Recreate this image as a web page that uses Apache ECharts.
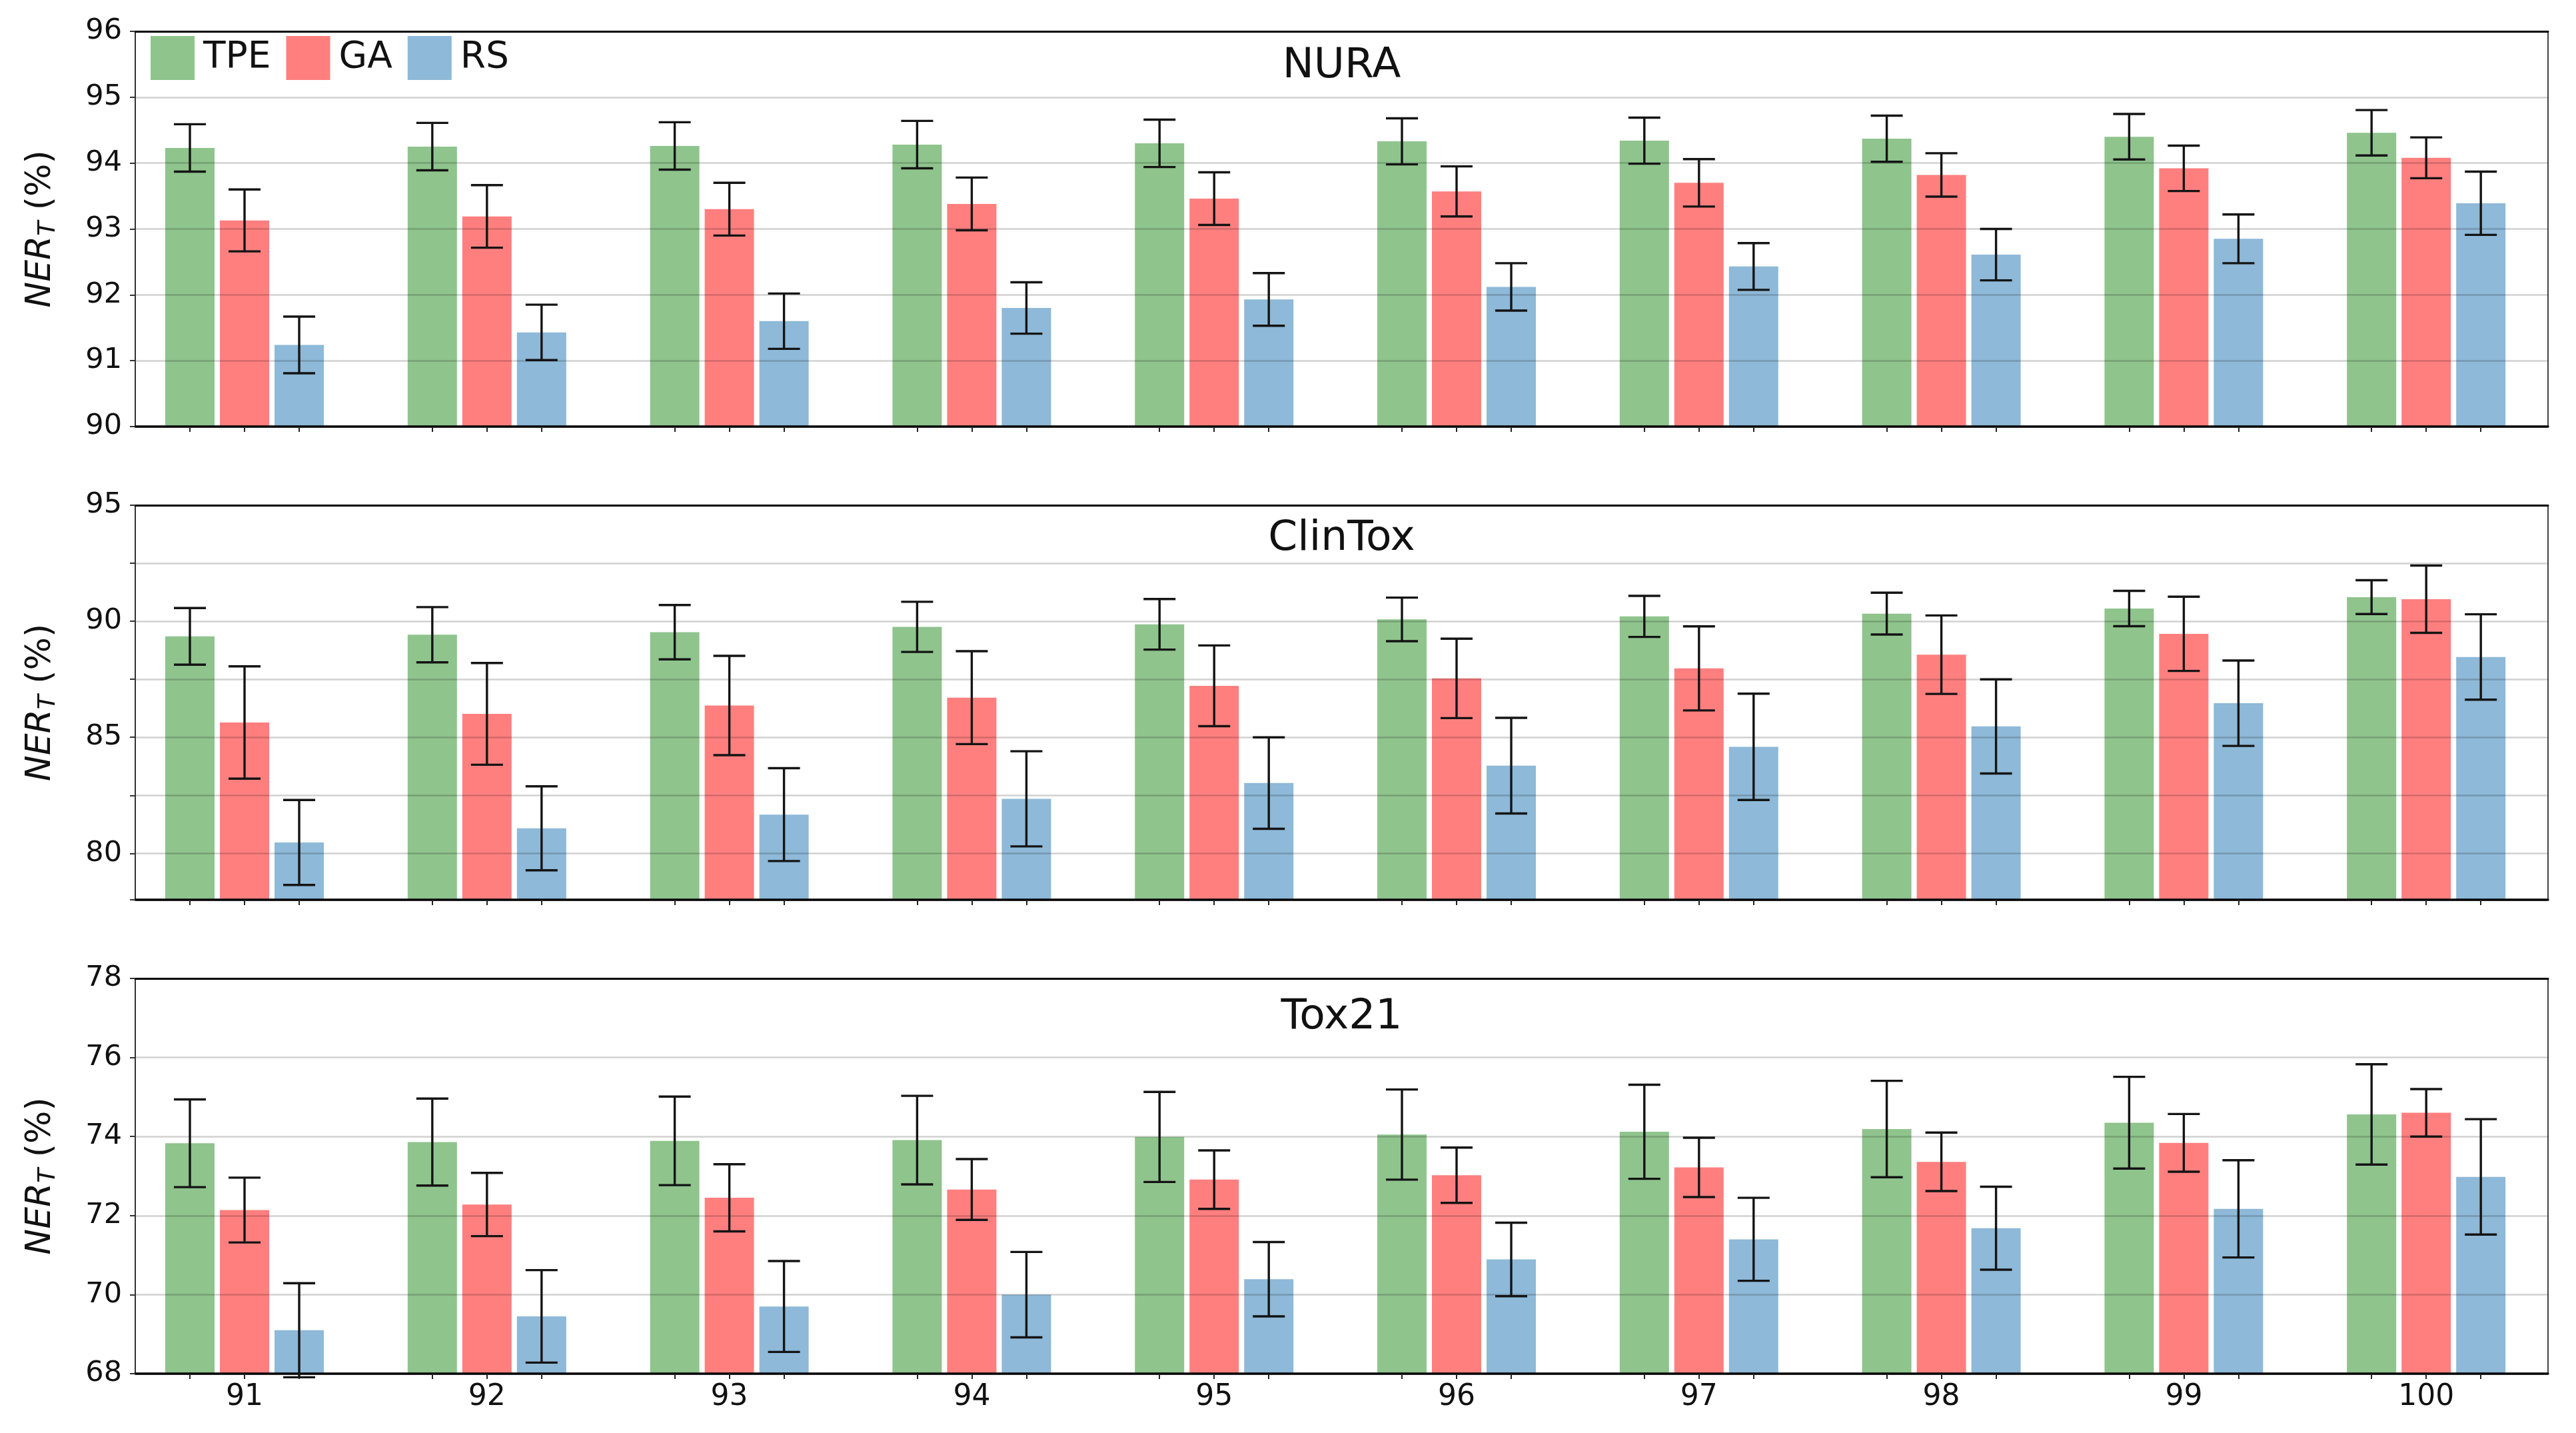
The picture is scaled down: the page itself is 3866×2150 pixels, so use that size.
<!DOCTYPE html>
<html><head><meta charset="utf-8">
<script src="https://cdn.jsdelivr.net/npm/echarts@6/dist/echarts.min.js"></script>
<style>html,body{margin:0;padding:0;background:#fff}#c{width:3866px;height:2150px}</style>
</head><body><div id="c"></div>
<script>
// ---------------- data ----------------
const categories = ['91', '92', '93', '94', '95', '96', '97', '98', '99', '100'];
const methods = ['TPE', 'GA', 'RS'];
const panelTitles = ['NURA', 'ClinTox', 'Tox21'];

const nuraTPE    = [94.23, 94.25, 94.26, 94.28, 94.30, 94.33, 94.34, 94.37, 94.40, 94.46];
const nuraTPEErr = [0.36, 0.36, 0.36, 0.36, 0.36, 0.35, 0.35, 0.35, 0.345, 0.345];
const nuraGA     = [93.13, 93.19, 93.30, 93.38, 93.46, 93.57, 93.70, 93.82, 93.92, 94.08];
const nuraGAErr  = [0.47, 0.475, 0.40, 0.40, 0.40, 0.38, 0.36, 0.33, 0.345, 0.31];
const nuraRS     = [91.24, 91.43, 91.60, 91.80, 91.93, 92.12, 92.43, 92.61, 92.85, 93.39];
const nuraRSErr  = [0.43, 0.42, 0.42, 0.39, 0.40, 0.36, 0.355, 0.39, 0.37, 0.48];

const clintoxTPE    = [89.35, 89.42, 89.53, 89.76, 89.87, 90.08, 90.21, 90.33, 90.55, 91.04];
const clintoxTPEErr = [1.22, 1.19, 1.17, 1.08, 1.09, 0.94, 0.885, 0.90, 0.76, 0.73];
const clintoxGA     = [85.64, 86.01, 86.37, 86.71, 87.22, 87.54, 87.97, 88.56, 89.46, 90.95];
const clintoxGAErr  = [2.42, 2.19, 2.14, 2.00, 1.74, 1.71, 1.81, 1.69, 1.60, 1.45];
const clintoxRS     = [80.47, 81.08, 81.67, 82.35, 83.03, 83.78, 84.59, 85.47, 86.47, 88.46];
const clintoxRSErr  = [1.83, 1.81, 2.00, 2.05, 1.97, 2.06, 2.29, 2.03, 1.84, 1.84];

const tox21TPE    = [73.83, 73.86, 73.89, 73.91, 73.99, 74.05, 74.12, 74.19, 74.35, 74.56];
const tox21TPEErr = [1.11, 1.10, 1.12, 1.12, 1.14, 1.14, 1.19, 1.22, 1.16, 1.27];
const tox21GA     = [72.14, 72.28, 72.45, 72.66, 72.91, 73.02, 73.22, 73.36, 73.84, 74.60];
const tox21GAErr  = [0.82, 0.80, 0.85, 0.77, 0.74, 0.70, 0.75, 0.74, 0.73, 0.60];
const tox21RS     = [69.10, 69.45, 69.70, 70.00, 70.39, 70.89, 71.40, 71.68, 72.17, 72.98];
const tox21RSErr  = [1.19, 1.17, 1.15, 1.08, 0.94, 0.93, 1.05, 1.05, 1.23, 1.46];

const nuraYTicks    = [90, 91, 92, 93, 94, 95, 96];
const clintoxYTicks = [80, 85, 90, 95];
const tox21YTicks   = [68, 70, 72, 74, 76, 78];

// ---------------- layout / style ----------------
const X_MIN = -0.4508, X_MAX = 9.5025;   // axis extent in group units
const OFFSET = 0.2254;                    // bar offset within a group
const BAR_W = 0.2034;                     // bar width in group units
const CAP_HALF = 24;
const colors = { TPE: 'rgb(143,196,141)', GA: 'rgb(255,127,127)', RS: 'rgb(142,185,216)' };
const FONT = 'DejaVu Sans';
const grids = [
  { left: 203, right: 42, top: 47, height: 593 },
  { left: 203, right: 42, top: 758, height: 592 },
  { left: 203, right: 42, top: 1468, height: 593 }
];
const titleY = [100, 809, 1527];

const panels = [
  { means: [nuraTPE, nuraGA, nuraRS], errs: [nuraTPEErr, nuraGAErr, nuraRSErr], min: 90, max: 96, ticks: nuraYTicks, step: 1 },
  { means: [clintoxTPE, clintoxGA, clintoxRS], errs: [clintoxTPEErr, clintoxGAErr, clintoxRSErr], min: 78, max: 95, ticks: clintoxYTicks, step: 2.5 },
  { means: [tox21TPE, tox21GA, tox21RS], errs: [tox21TPEErr, tox21GAErr, tox21RSErr], min: 68, max: 78, ticks: tox21YTicks, step: 2 }
];

const offsets = [-OFFSET, 0, OFFSET];
const tickPositions = [];
categories.forEach((c, i) => offsets.forEach(o => tickPositions.push(i + o)));
const labelPositions = categories.map((c, i) => i);

function barRenderer(ymin) {
  return function (params, api) {
    const x = api.value(0), v = api.value(1);
    const top = api.coord([x, v]);
    const base = api.coord([x, ymin]);
    const w = api.size([BAR_W, 0])[0];
    return {
      type: 'rect',
      shape: { x: top[0] - w / 2, y: top[1], width: w, height: base[1] - top[1] },
      style: { fill: api.visual('color') }
    };
  };
}
function errRenderer(params, api) {
  const x = api.value(0), lo = api.value(1), hi = api.value(2);
  const a = api.coord([x, hi]), b = api.coord([x, lo]);
  const st = { stroke: '#141414', lineWidth: 3.4 };
  return {
    type: 'group',
    children: [
      { type: 'line', shape: { x1: a[0], y1: a[1], x2: b[0], y2: b[1] }, style: st },
      { type: 'line', shape: { x1: a[0] - CAP_HALF, y1: a[1], x2: a[0] + CAP_HALF, y2: a[1] }, style: st },
      { type: 'line', shape: { x1: b[0] - CAP_HALF, y1: b[1], x2: b[0] + CAP_HALF, y2: b[1] }, style: st }
    ]
  };
}

const xAxis = [], yAxis = [], series = [], graphic = [];
panels.forEach((p, k) => {
  xAxis.push({
    type: 'value', gridIndex: k, min: X_MIN, max: X_MAX, position: 'bottom', z: 3,
    axisLine: { show: true, onZero: false, lineStyle: { color: '#000', width: 3.5 } },
    axisTick: { show: true, customValues: tickPositions, length: 8, lineStyle: { color: '#222', width: 2 } },
    axisLabel: {
      show: k === 2, customValues: labelPositions, fontSize: 44, margin: 14, color: '#111', fontFamily: FONT,
      formatter: v => categories[Math.round(v)]
    },
    splitLine: { show: false }
  });
  xAxis.push({
    type: 'value', gridIndex: k, min: X_MIN, max: X_MAX, position: 'top', z: 3,
    axisLine: { show: true, onZero: false, lineStyle: { color: '#000', width: 3 } },
    axisTick: { show: false }, axisLabel: { show: false }, splitLine: { show: false }
  });
  const ya = {
    type: 'value', gridIndex: k, min: p.min, max: p.max, z: 3, position: 'left',
    axisLine: { show: true, onZero: false, lineStyle: { color: '#333', width: 2 } },
    axisTick: { show: true, length: 8, lineStyle: { color: '#333', width: 2 } },
    axisLabel: {
      fontSize: 43, margin: 20, color: '#111', fontFamily: FONT,
      formatter: v => (p.ticks.indexOf(Math.round(v * 100) / 100) >= 0 ? String(v) : '')
    },
    splitLine: { show: true, lineStyle: { color: 'rgba(0,0,0,0.18)', width: 2.5 } },
    name: '{i|NER}{s|T}{n| (%)}', nameLocation: 'middle', nameGap: 112,
    nameTextStyle: {
      color: '#111',
      rich: {
        i: { fontSize: 52, fontStyle: 'italic', fontFamily: FONT, color: '#111' },
        s: { fontSize: 36, fontStyle: 'italic', fontFamily: FONT, color: '#111', padding: [24, 0, 0, 0] },
        n: { fontSize: 52, fontFamily: FONT, color: '#111' }
      }
    }
  };
  if (p.step === 2.5) { ya.minInterval = p.step; ya.maxInterval = p.step; }
  else { ya.interval = p.step; }
  yAxis.push(ya);

  methods.forEach((m, j) => {
    series.push({
      type: 'custom', name: m, xAxisIndex: 2 * k, yAxisIndex: k, z: 2,
      itemStyle: { color: colors[m] },
      renderItem: barRenderer(p.min),
      encode: { x: 0, y: 1 },
      data: p.means[j].map((v, i) => [i + offsets[j], v])
    });
  });
  methods.forEach((m, j) => {
    series.push({
      type: 'custom', name: m + ' err', xAxisIndex: 2 * k, yAxisIndex: k, z: 6, clip: false,
      itemStyle: { color: '#141414' },
      renderItem: errRenderer,
      encode: { x: 0, y: [1, 2] },
      data: p.means[j].map((v, i) => [i + offsets[j], v - p.errs[j][i], v + p.errs[j][i]])
    });
  });

  graphic.push({
    type: 'text', x: grids[k].left + (3866 - grids[k].left - grids[k].right) / 2, y: titleY[k], z: 10,
    style: { text: panelTitles[k], fontSize: 63, fontFamily: FONT, fill: '#111', textAlign: 'center', textVerticalAlign: 'middle' }
  });
});

const option = {
  animation: false,
  backgroundColor: '#fff',
  textStyle: { fontFamily: FONT },
  grid: grids.map(g => Object.assign({ show: true, borderColor: '#444', borderWidth: 2, backgroundColor: 'transparent' }, g)),
  legend: {
    data: methods, left: 226, top: 54, padding: 0, itemWidth: 66, itemHeight: 66, itemGap: 23,
    icon: 'rect', selectedMode: false,
    textStyle: { fontSize: 55, color: '#111', fontFamily: FONT, padding: [0, 0, 0, 8] }
  },
  xAxis, yAxis, series, graphic
};

const chart = echarts.init(document.getElementById('c'), null, { renderer: 'canvas', width: 3866, height: 2150 });
chart.setOption(option);
</script>
</body></html>
